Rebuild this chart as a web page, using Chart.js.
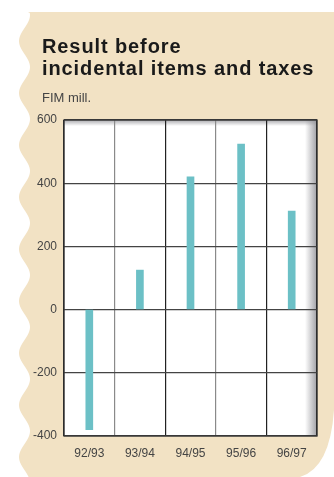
<!DOCTYPE html>
<html>
<head>
<meta charset="utf-8">
<script src="https://cdn.jsdelivr.net/npm/chart.js@4/dist/chart.umd.min.js"></script>
<style>
html,body{margin:0;padding:0;background:#fff;}
#wrap{width:334px;height:477px;position:relative;}
</style>
</head>
<body>
<div id="wrap"><canvas id="myChart" width="334" height="477"></canvas></div>
<script>
// data
var seasons = ['92/93', '93/94', '94/95', '95/96', '96/97'];
var result = [-380, 125, 420, 524, 312];
var yTicks = [-400, -200, 0, 200, 400, 600];

var beige = '#f2e2c4';

// background card, white plot box and its shadows
var fondo = {
	id: 'fondo',
	beforeDraw: (chart) => {
		var ctx = chart.ctx;
		var a = chart.chartArea;
		ctx.save();
		ctx.fillStyle = '#fff';
		ctx.fillRect(0, 0, chart.width, chart.height);
		// wavy left edge
		ctx.beginPath();
		ctx.moveTo(28, 12);
		ctx.lineTo(334, 12);
		ctx.lineTo(334, 410);
		ctx.quadraticCurveTo(330, 468, 300, 477);
		ctx.lineTo(26, 477);
		for (var y = 477; y >= 12; y -= 2) {
			var x = 24.5 + 5.5 * Math.sin((y - 12) / 52 * 2 * Math.PI + 1.2);
			ctx.lineTo(x, y);
		}
		ctx.closePath();
		ctx.fillStyle = beige;
		ctx.fill();

		// plot box
		ctx.fillStyle = '#fff';
		ctx.fillRect(a.left, a.top, a.right - a.left, a.bottom - a.top);
		var g = ctx.createLinearGradient(a.right - 12, 0, a.right, 0);
		g.addColorStop(0, 'rgba(150,150,155,0)');
		g.addColorStop(1, 'rgba(150,150,155,0.9)');
		ctx.fillStyle = g;
		ctx.fillRect(a.right - 12, a.top, 12, a.bottom - a.top);
		var g2 = ctx.createLinearGradient(0, a.top, 0, a.top + 6);
		g2.addColorStop(0, 'rgba(150,150,155,0.8)');
		g2.addColorStop(1, 'rgba(150,150,155,0)');
		ctx.fillStyle = g2;
		ctx.fillRect(a.left, a.top, a.right - a.left, 6);

		// title
		ctx.fillStyle = '#1a1a1a';
		ctx.font = 'bold 20px "Liberation Sans", Arial, sans-serif';
		ctx.letterSpacing = '0.9px';
		ctx.textBaseline = 'alphabetic';
		ctx.fillText('Result before', 42, 53);
		ctx.fillText('incidental items and taxes', 42, 75);
		ctx.letterSpacing = '0px';
		ctx.fillStyle = '#444';
		ctx.font = '13px "Liberation Sans", Arial, sans-serif';
		ctx.fillText('FIM mill.', 42, 102);
		ctx.restore();
	},
	afterDraw: (chart) => {
		var ctx = chart.ctx;
		var a = chart.chartArea;
		ctx.save();
		ctx.strokeStyle = '#333';
		ctx.lineWidth = 1.3;
		ctx.strokeRect(a.left, a.top, a.right - a.left, a.bottom - a.top);
		ctx.restore();
	}
};

var ctx = document.getElementById('myChart').getContext('2d');
var chart = new Chart(ctx, {
	type: 'bar',
	data: {
		labels: seasons,
		datasets: [{
			data: result,
			backgroundColor: '#6cc0c6',
			barThickness: 7
		}]
	},
	options: {
		responsive: false,
		animation: false,
		layout: {padding: {top: 120, right: 17, bottom: 0, left: 0}},
		plugins: {legend: {display: false}, tooltip: {enabled: false}},
		scales: {
			x: {
				grid: {
					drawTicks: false,
					lineWidth: 1.2,
					color: (c) => (c.index % 2 == 1 ? '#8a8a8a' : '#222')
				},
				border: {display: false},
				ticks: {color: '#444', padding: 10, font: {family: '"Liberation Sans", Arial, sans-serif', size: 12}},
				afterFit: (s) => { s.height = 41; }
			},
			y: {
				min: -400,
				max: 600,
				afterBuildTicks: (s) => { s.ticks = yTicks.map(v => ({value: v})); },
				grid: {drawTicks: false, lineWidth: 1.2, color: '#444'},
				border: {display: false},
				ticks: {color: '#444', padding: 7, font: {family: '"Liberation Sans", Arial, sans-serif', size: 12}},
				afterFit: (s) => { s.width = 64; }
			}
		}
	},
	plugins: [fondo]
});
</script>
</body>
</html>
